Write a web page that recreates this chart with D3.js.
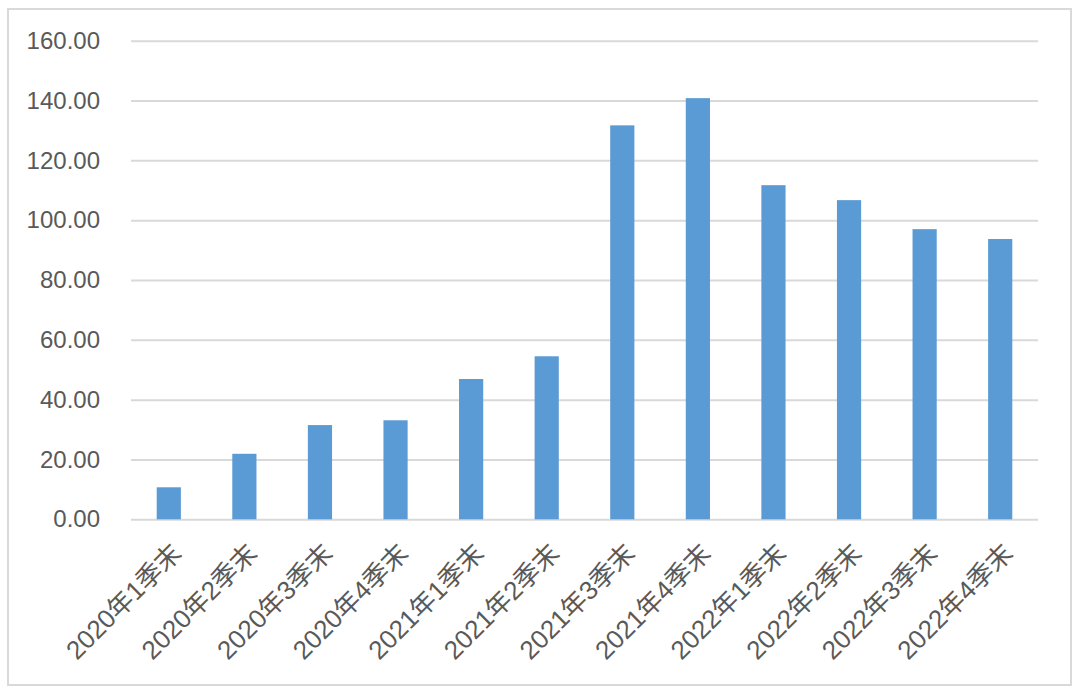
<!DOCTYPE html>
<html><head><meta charset="utf-8">
<script src="https://cdn.jsdelivr.net/npm/d3@7"></script>
<style>body{margin:0;background:#fff;}svg{display:block;}</style>
</head><body>
<script>
const categories = ["2020年1季末","2020年2季末","2020年3季末","2020年4季末","2021年1季末","2021年2季末","2021年3季末","2021年4季末","2022年1季末","2022年2季末","2022年3季末","2022年4季末"];
const values = [10.7, 21.9, 31.5, 33.1, 46.9, 54.5, 131.7, 140.8, 111.7, 106.7, 97.0, 93.7];
const yTicks = [0, 20, 40, 60, 80, 100, 120, 140, 160];

const W = 1080, H = 692;
const svg = d3.select("body").append("svg").attr("width", W).attr("height", H);
svg.append("rect").attr("x", 8).attr("y", 9).attr("width", 1063).attr("height", 676)
  .attr("fill", "#fff").attr("stroke", "#d9d9d9").attr("stroke-width", 2);

const x = d3.scaleBand().domain(categories).range([131, 1038]).paddingInner(0.68).paddingOuter(0.34);
const y = d3.scaleLinear().domain([0, 160]).range([519.3, 40.7]);

const font = "'Liberation Sans', 'Noto Sans CJK SC', sans-serif";

const yAxis = svg.append("g").attr("transform", "translate(131,0)")
  .call(d3.axisLeft(y).tickValues(yTicks).tickSize(-907).tickFormat(d3.format(".2f")).tickPadding(31));
yAxis.select(".domain").remove();
yAxis.selectAll(".tick line").attr("stroke", "#d9d9d9").attr("stroke-width", 2);
yAxis.selectAll(".tick text").attr("fill", "#595959").style("font-size", "24px").style("font-family", font);

svg.append("g").selectAll("rect").data(values).join("rect")
  .attr("x", (d, i) => x(categories[i]))
  .attr("width", x.bandwidth())
  .attr("y", d => y(d))
  .attr("height", d => y(0) - y(d))
  .attr("fill", "#5b9bd5");

const xAxis = svg.append("g").attr("transform", "translate(0,519.3)")
  .call(d3.axisBottom(x).tickSize(0).tickPadding(0));
xAxis.select(".domain").remove();
xAxis.selectAll(".tick text")
  .attr("fill", "#595959").style("font-size", "26px").style("font-family", font)
  .attr("text-anchor", "end")
  .attr("transform", "translate(8,29) rotate(-45)")
  .attr("dy", "0.35em");
</script>
</body></html>
